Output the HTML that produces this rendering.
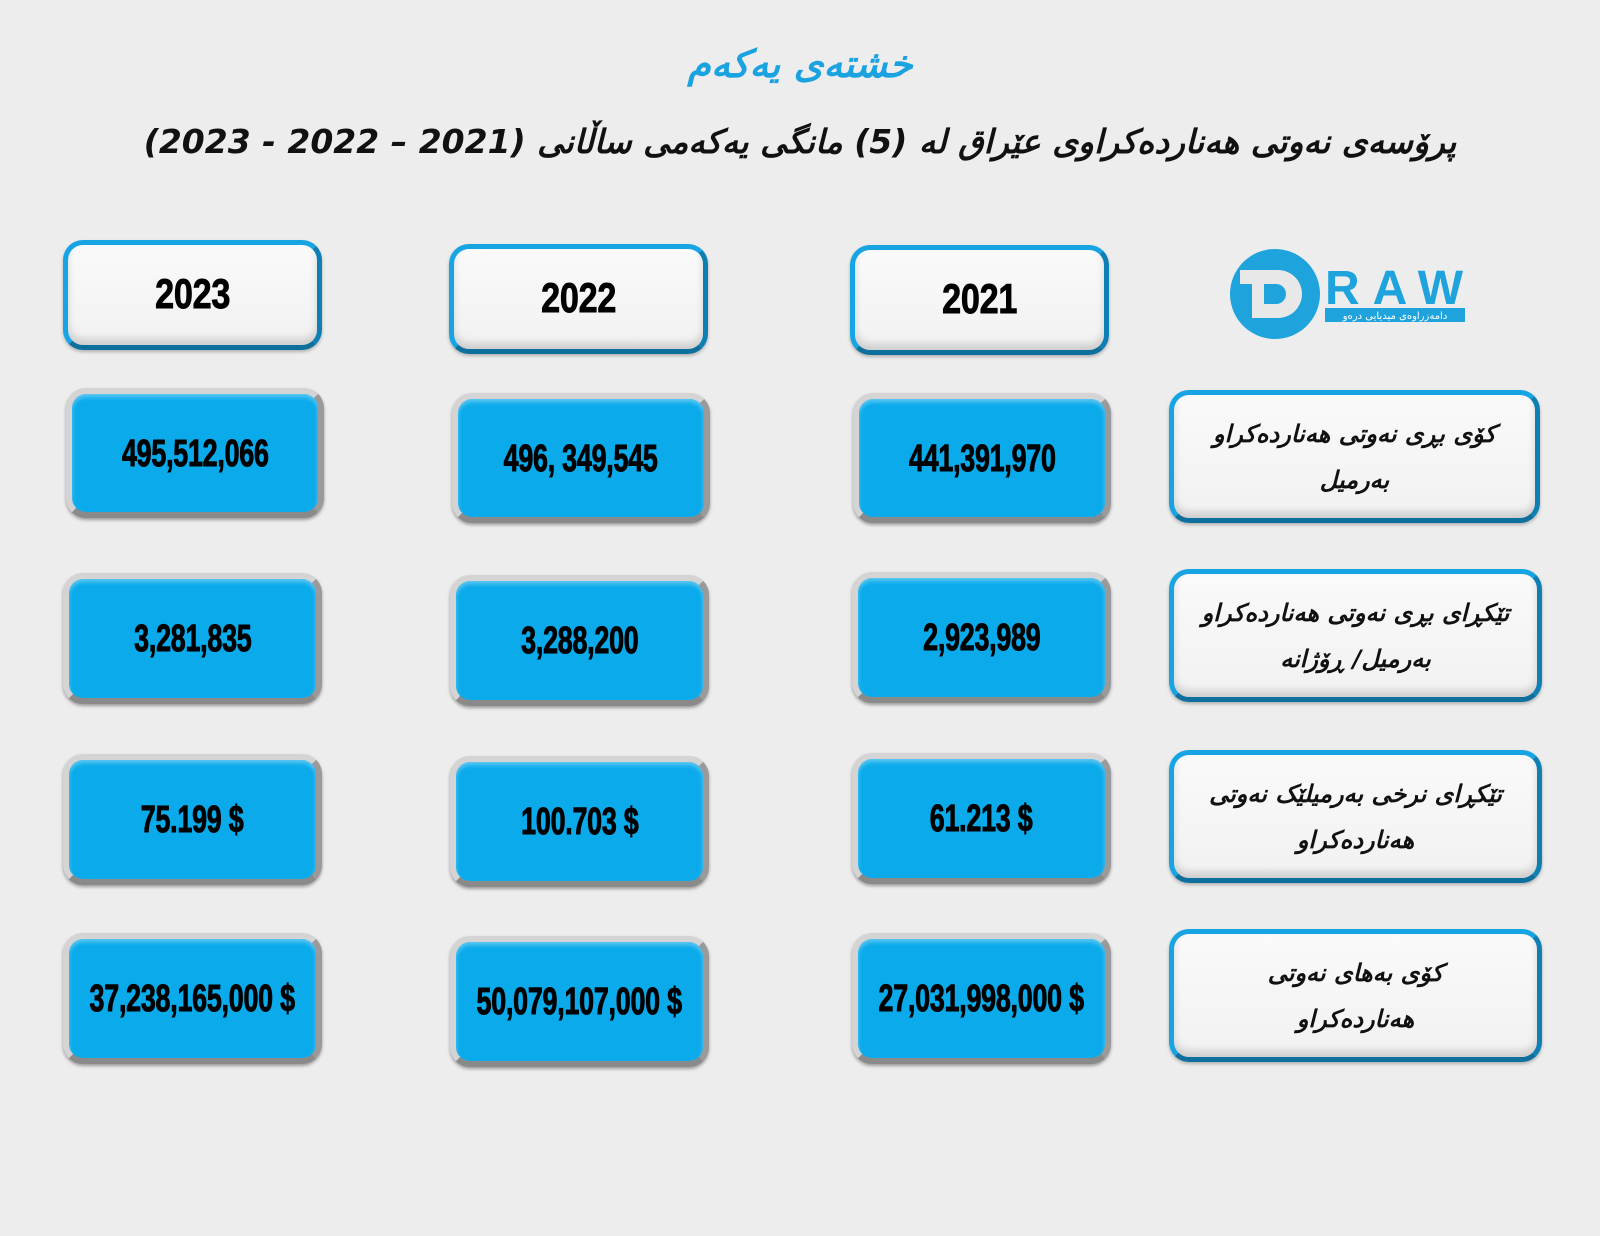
<!DOCTYPE html>
<html><head><meta charset="utf-8"><style>
*{margin:0;padding:0;box-sizing:border-box}
body{width:1600px;height:1236px;background:#ededed;position:relative;overflow:hidden;font-family:"Liberation Sans","DejaVu Sans",sans-serif}
.t1{position:absolute;left:0;width:1600px;top:42px;text-align:center;color:#1aa3e0;font:italic bold 38px "DejaVu Sans",sans-serif}
.t2{position:absolute;left:0;width:1600px;top:122px;text-align:center;color:#111;font:italic bold 33px "DejaVu Sans",sans-serif}
.b{position:absolute;display:flex;align-items:center;justify-content:center;text-align:center}
.blue{background:#0aaaeb;border-radius:20px;border:6px solid #d4d4d4;border-bottom-color:#8a8a8a;border-right-color:#9a9a9a;box-shadow:0 2px 3px rgba(0,0,0,.35),inset 0 3px 4px rgba(255,255,255,.35)}
.white{background:linear-gradient(#fafafa,#f1f1f1);border-radius:20px;border:5px solid #17a4e3;border-bottom-color:#0d6f9c;border-right-color:#0e7fb3;box-shadow:inset 0 -6px 8px rgba(0,0,0,.15),0 2px 3px rgba(0,0,0,.25)}
.n{font-family:"Liberation Sans Narrow","Liberation Sans",sans-serif;font-weight:bold;font-size:32px;color:#000;transform:scale(0.84,1.2);letter-spacing:-0.3px;white-space:nowrap;-webkit-text-stroke:0.8px #000}
.yr{font-size:38px;transform:scale(0.9,1.1)}
.lab{font:italic bold 24px/46px "DejaVu Sans",sans-serif;color:#111;direction:rtl}
</style></head><body>
<div class="t1" dir="rtl">خشتەی یەکەم</div>
<div class="t2" dir="rtl">پرۆسەی نەوتی هەناردەکراوی عێراق لە (5) مانگی یەکەمی ساڵانی (2021 – 2022 - 2023)</div>

<div class="b white" style="left:63px;top:240px;width:259px;height:110px"><span class="n yr">2023</span></div>
<div class="b white" style="left:449px;top:244px;width:259px;height:110px"><span class="n yr">2022</span></div>
<div class="b white" style="left:850px;top:245px;width:259px;height:110px"><span class="n yr">2021</span></div>

<svg style="position:absolute;left:1230px;top:248px" width="240" height="92" viewBox="0 0 240 92">
<circle cx="45" cy="46" r="45" fill="#1ea3dd"/>
<path d="M10 22 H48 A24 24 0 0 1 48 70 H22 V36 H10 Z" fill="#e8e8e8"/>
<path d="M34 36 H46 A10 10 0 0 1 46 56 H34 Z" fill="#1ea3dd"/>
<text x="95" y="56" font-family="Liberation Sans" font-weight="bold" font-size="48" fill="#1ea3dd" textLength="138">RAW</text>
<rect x="95" y="60" width="140" height="14" fill="#1ea3dd"/>
<text x="165" y="71" font-family="DejaVu Sans" font-size="10" fill="#fff" text-anchor="middle">دامەزراوەی میدیایی درەو</text>
</svg>

<div class="b blue" style="left:66px;top:388px;width:258px;height:130px"><span class="n">495,512,066</span></div>
<div class="b blue" style="left:452px;top:393px;width:258px;height:130px"><span class="n">496, 349,545</span></div>
<div class="b blue" style="left:853px;top:393px;width:258px;height:130px"><span class="n">441,391,970</span></div>
<div class="b white" style="left:1169px;top:390px;width:371px;height:133px"><div class="lab">کۆی بڕی نەوتی هەناردەکراو<br>بەرمیل</div></div>

<div class="b blue" style="left:63px;top:573px;width:259px;height:131px"><span class="n">3,281,835</span></div>
<div class="b blue" style="left:450px;top:575px;width:259px;height:131px"><span class="n">3,288,200</span></div>
<div class="b blue" style="left:852px;top:572px;width:259px;height:131px"><span class="n">2,923,989</span></div>
<div class="b white" style="left:1169px;top:569px;width:373px;height:133px"><div class="lab">تێکڕای بڕی نەوتی هەناردەکراو<br>بەرمیل/ ڕۆژانە</div></div>

<div class="b blue" style="left:63px;top:754px;width:259px;height:131px"><span class="n">75.199 $</span></div>
<div class="b blue" style="left:450px;top:756px;width:259px;height:131px"><span class="n">100.703 $</span></div>
<div class="b blue" style="left:852px;top:753px;width:259px;height:131px"><span class="n">61.213 $</span></div>
<div class="b white" style="left:1169px;top:750px;width:373px;height:133px"><div class="lab">تێکڕای نرخی بەرمیلێک نەوتی<br>هەناردەکراو</div></div>

<div class="b blue" style="left:63px;top:933px;width:259px;height:131px"><span class="n">37,238,165,000 $</span></div>
<div class="b blue" style="left:450px;top:936px;width:259px;height:131px"><span class="n">50,079,107,000 $</span></div>
<div class="b blue" style="left:852px;top:933px;width:259px;height:131px"><span class="n">27,031,998,000 $</span></div>
<div class="b white" style="left:1169px;top:929px;width:373px;height:133px"><div class="lab">کۆی بەهای نەوتی<br>هەناردەکراو</div></div>
</body></html>
